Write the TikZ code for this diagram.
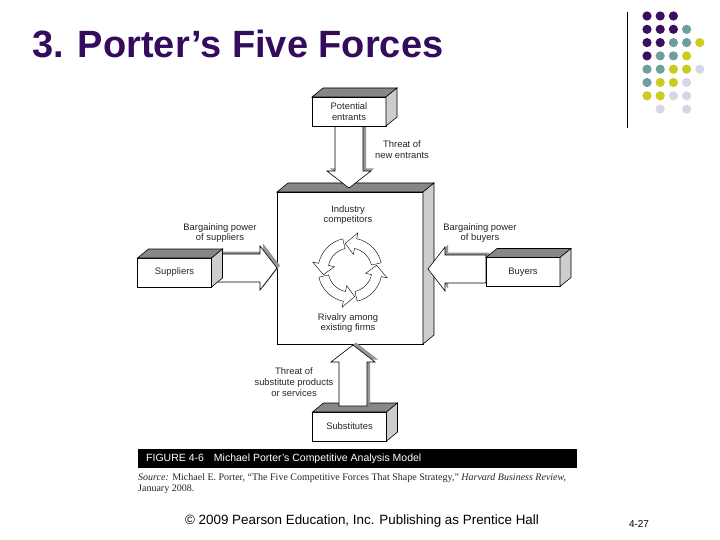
\documentclass[tikz,border=0pt]{standalone}
\usepackage{fontspec}
\setmainfont{Liberation Sans}
\newfontfamily\srcfont{Liberation Serif}
\usetikzlibrary{arrows}
\usetikzlibrary{scopes}
\usetikzlibrary{calc}

\pgfdeclarelayer{arrows}
\pgfdeclarelayer{boxes}
\pgfsetlayers{main,arrows,boxes}

% top and side faces of a box node
\newcommand{\cubeface}[1]{%
  \filldraw[fill=topgray,draw=black,line width=0.6pt] (#1.north west) -- ++(11,-9) -- ($(#1.north east)+(11,-9)$) -- (#1.north east) -- cycle;
  \filldraw[fill=sidegray,draw=black,line width=0.6pt] (#1.north east) -- ++(11,-9) -- ($(#1.south east)+(11,-9)$) -- (#1.south east) -- cycle;
}

% outline of a hollow arrow
\newcommand{\arrowpath}[2]{($(#1)!14pt!90:(#2)$) -- ($(base)!14pt!90:(#2)$) -- ($(base)!22pt!90:(#2)$) -- (#2) -- ($(base)!22pt!-90:(#2)$) -- ($(base)!14pt!-90:(#2)$) -- ($(#1)!14pt!-90:(#2)$) -- cycle}

\newcommand{\bigarrow}[2]{%
  \coordinate (base) at ($(#2)!17pt!(#1)$);
  {[transform canvas={xshift=3pt,yshift=2.5pt}]
    \fill[arrowgray] \arrowpath{#1}{#2};
  }
  \filldraw[fill=white,draw=black,line width=0.6pt] \arrowpath{#1}{#2};
}

\begin{document}
\begin{tikzpicture}[x=1pt,y=-1pt,
  box/.style={draw=black,fill=white,line width=0.6pt,inner sep=0pt,outer sep=0pt,
    minimum width=74,minimum height=29,align=center,text=black!85,
    font=\fontsize{9.4}{10.8}\selectfont},
  lbl/.style={align=center,inner sep=0pt,text=black!85,font=\fontsize{9.4}{10.8}\selectfont},
  ringarrow/.style={fill=white,draw=black,line width=0.4pt}]

\definecolor{titlepurple}{RGB}{51,12,94}
\definecolor{dotpurple}{RGB}{58,14,96}
\definecolor{dotteal}{RGB}{111,158,158}
\definecolor{dotyellow}{RGB}{204,204,30}
\definecolor{dotlilac}{RGB}{214,214,230}
\definecolor{topgray}{RGB}{135,135,135}
\definecolor{sidegray}{RGB}{205,205,205}
\definecolor{arrowgray}{RGB}{150,150,150}

\useasboundingbox[fill=white] (0,0) rectangle (720,540);

%title and corner decoration
\node[anchor=base west,inner sep=0pt,text=titlepurple,font=\bfseries\fontsize{38}{40}\selectfont] (title) at (32,58) {3. Porter’s Five Forces};
\draw[line width=1pt] (627,12) -- (627,128);

\foreach \c/\r/\col in {0/0/dotpurple,1/0/dotpurple,2/0/dotpurple,
  0/1/dotpurple,1/1/dotpurple,2/1/dotpurple,3/1/dotteal,
  0/2/dotpurple,1/2/dotpurple,2/2/dotteal,3/2/dotteal,4/2/dotyellow,
  0/3/dotpurple,1/3/dotteal,2/3/dotteal,3/3/dotyellow,
  0/4/dotteal,1/4/dotteal,2/4/dotyellow,3/4/dotyellow,4/4/dotlilac,
  0/5/dotteal,1/5/dotyellow,2/5/dotyellow,3/5/dotlilac,
  0/6/dotyellow,1/6/dotyellow,2/6/dotlilac,3/6/dotlilac,
  1/7/dotlilac,3/7/dotlilac}
  \fill[\col] (647+13.2*\c,16+13.3*\r) circle (4.6pt);

%industry box
\node[box,minimum width=146,minimum height=152] (industry) at (350,268) {};
\cubeface{industry}
\node[lbl] (competitors) at (348,215) {Industry\\competitors};
\node[lbl] (rivalry) at (348,323) {Rivalry among\\existing firms};

%rivalry circle
{[shift={(350,270)}]
  \foreach \a in {10,100,190,280}{
    \pgfmathsetmacro\b{\a-22}
    \pgfmathsetmacro\s{\a-87}
    \draw[ringarrow] (\s:32pt) arc[start angle=\s,end angle=\b,radius=32pt] -- (\b:38pt) -- (\a:27pt) -- (\b:16pt) -- (\b:22pt) arc[start angle=\b,end angle=\s,radius=22pt] -- cycle;
  }
}

%outer boxes
\begin{pgfonlayer}{boxes}
  \node[box] (entrants) at (349,111.5) {Potential\\entrants};
  \cubeface{entrants}
  \node[box] (suppliers) at (174.5,272.5) {Suppliers};
  \cubeface{suppliers}
  \node[box] (buyers) at (523,272) {Buyers};
  \cubeface{buyers}
  \node[box] (substitutes) at (349.5,426.5) {Substitutes};
  \cubeface{substitutes}
\end{pgfonlayer}

%forces
\coordinate (newtip) at (349,188);
\coordinate (supout) at ($(suppliers.east)+(0,-4.5)$);
\coordinate (suptip) at (277,268);
\coordinate (buyout) at ($(buyers.west)+(0,-3)$);
\coordinate (buytip) at (428,269);
\coordinate (subout) at (353,406);
\coordinate (subtip) at (353,345);

\begin{pgfonlayer}{arrows}
  \bigarrow{entrants.south}{newtip}
  \bigarrow{supout}{suptip}
  \bigarrow{buyout}{buytip}
\end{pgfonlayer}
\begin{pgfonlayer}{boxes}
  \bigarrow{subout}{subtip}
\end{pgfonlayer}

\node[lbl] (newentrants) at (402,150) {Threat of\\new entrants};
\node[lbl] (supplierpower) at (220,233) {Bargaining power\\of suppliers};
\node[lbl] (buyerpower) at (480,233) {Bargaining power\\of buyers};
\node[lbl] (substitutethreat) at (294,382) {Threat of\\substitute products\\or services};

%caption
\node[fill=black,inner sep=0pt,minimum width=439,minimum height=19,anchor=north west] (figbar) at (138,449) {};
\node[anchor=west,inner sep=0pt,text=white,font=\fontsize{10.5}{12}\selectfont] (figtitle) at (146,458.5) {FIGURE 4-6\hspace{10pt}Michael Porter’s Competitive Analysis Model};
\node[anchor=north west,inner sep=0pt,align=left,text=black!85,font=\srcfont\fontsize{10}{11}\selectfont] (source) at (138,473.5) {\textit{Source:} Michael E. Porter, “The Five Competitive Forces That Shape Strategy,” \textit{Harvard Business Review,}\\January 2008.};

%footer
\node[inner sep=0pt,font=\fontsize{13.4}{15}\selectfont] (footer) at (362,521) {© 2009 Pearson Education, Inc. Publishing as Prentice Hall};
\node[inner sep=0pt,font=\fontsize{10}{12}\selectfont] (pagenum) at (639,524) {4-27};

\end{tikzpicture}
\end{document}
